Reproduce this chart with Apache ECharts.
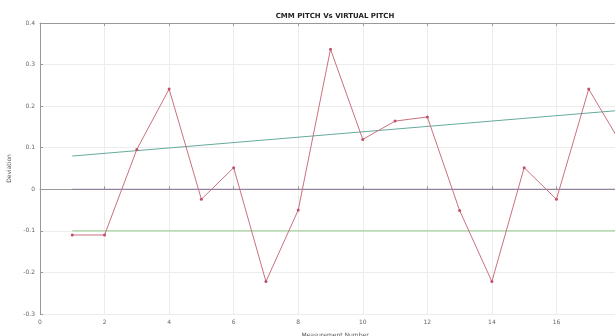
<!DOCTYPE html>
<html>
<head>
<meta charset="utf-8">
<script src="https://cdn.jsdelivr.net/npm/echarts@6/dist/echarts.min.js"></script>
<style>html,body{margin:0;padding:0;background:#fff}#c{width:615px;height:336px}</style>
</head>
<body>
<div id="c"></div>
<script>
const measurementNumbers = [1,2,3,4,5,6,7,8,9,10,11,12,13,14,15,16,17,18];
const deviations = [-0.11,-0.11,0.096,0.241,-0.024,0.052,-0.222,-0.05,0.337,0.12,0.164,0.174,-0.051,-0.222,0.052,-0.024,0.241,0.11];
const trendX = [1, 18];
const trendY = [0.08, 0.19];
const zeroX = [1, 18];
const zeroY = [0, 0];
const lowerX = [1, 18];
const lowerY = [-0.1, -0.1];
const xTicks = [0,2,4,6,8,10,12,14,16];
const yTicks = [-0.3,-0.2,-0.1,0,0.1,0.2,0.3,0.4];

const pairs = (xs, ys) => xs.map((x, i) => [x, ys[i]]);
const chart = echarts.init(document.getElementById('c'));
const labelStyle = {fontSize: 6, color: '#666', fontFamily: 'DejaVu Sans'};
chart.setOption({
  animation: false,
  title: [
    {text: 'CMM PITCH Vs VIRTUAL PITCH', left: 330, top: 8, textAlign: 'center',
      textStyle: {fontSize: 7, fontWeight: 'bold', color: '#222', fontFamily: 'DejaVu Sans'}},
    {text: 'Measurement Number', left: 330, top: 327, textAlign: 'center',
      textStyle: {fontSize: 6, fontWeight: 'normal', color: '#555', fontFamily: 'DejaVu Sans'}}
  ],
  grid: {left: 40, top: 23, width: 581, height: 291, outerBoundsMode: 'none', containLabel: false},
  xAxis: [{type: 'value', min: 0, max: 18, interval: 2,
    axisLine: {lineStyle: {color: '#999'}}, axisTick: {inside: true, length: 3, lineStyle: {color: '#999'}},
    axisLabel: Object.assign({margin: 5, hideOverlap: false, customValues: xTicks}, labelStyle),
    splitLine: {show: true, lineStyle: {color: '#ececec'}}},
   {type: 'value', position: 'top', min: 0, max: 18, interval: 2,
    axisLine: {show: true, lineStyle: {color: '#999'}}, axisTick: {show: true, inside: true, length: 3, lineStyle: {color: '#999'}},
    axisLabel: {show: false}, splitLine: {show: false}}],
  yAxis: {type: 'value', min: -0.3, max: 0.4, interval: 0.1,
    name: 'Deviation', nameLocation: 'middle', nameGap: 22,
    nameTextStyle: {fontSize: 6, color: '#555', fontFamily: 'DejaVu Sans'},
    axisLine: {show: true, lineStyle: {color: '#999'}}, axisTick: {show: true, inside: true, length: 3, lineStyle: {color: '#999'}},
    axisLabel: Object.assign({margin: 5, formatter: v => { const r = Math.round(v*10)/10; return yTicks.includes(r) ? String(r) : ''; }}, labelStyle),
    splitLine: {show: true, lineStyle: {color: '#ececec'}}},
  series: [
    {type: 'line', data: pairs(zeroX, zeroY), symbol: 'none', lineStyle: {color: '#94849a', width: 1.2}, z: 2},
    {type: 'line', data: pairs(lowerX, lowerY), symbol: 'none', lineStyle: {color: '#90cc8c', width: 1}, z: 2},
    {type: 'line', data: pairs(trendX, trendY), symbol: 'none', lineStyle: {color: '#66aa9c', width: 1}, z: 3},
    {type: 'line', data: pairs(measurementNumbers, deviations), symbol: 'circle', symbolSize: 3,
      itemStyle: {color: '#c0506a'}, lineStyle: {color: '#c9707e', width: 1}, z: 4}
  ]
});
</script>
</body>
</html>
